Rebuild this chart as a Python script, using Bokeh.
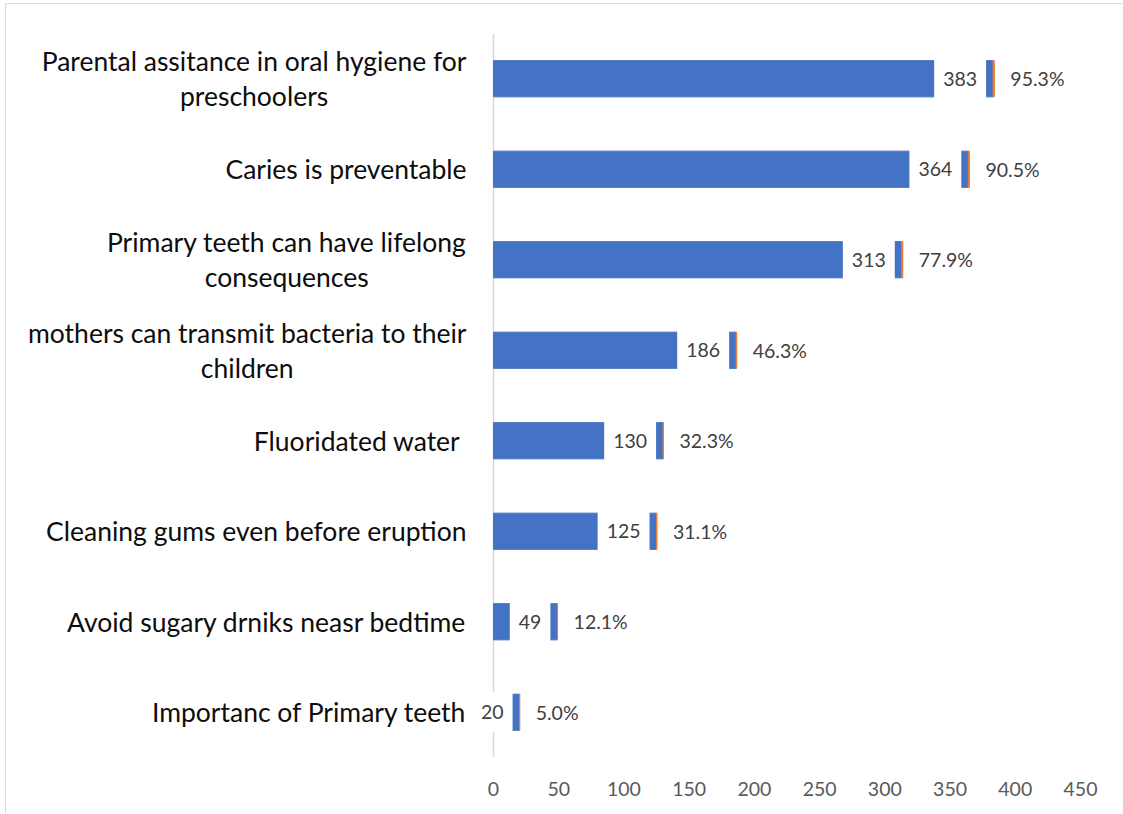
from bokeh.plotting import figure
from bokeh.models import ColumnDataSource, FactorRange, Range1d, FixedTicker, Span
from bokeh.core.properties import value
from bokeh.embed import file_html
from bokeh.resources import INLINE

# Survey items, top to bottom
items = [
    "Parental assitance in oral hygiene for\npreschoolers",
    "Caries is preventable",
    "Primary teeth can have lifelong\nconsequences",
    "mothers can transmit bacteria to their\nchildren",
    "Fluoridated water\u00a0",
    "Cleaning gums even before eruption",
    "Avoid sugary drniks neasr bedtime",
    "Importanc of Primary teeth",
]
counts = [383, 364, 313, 186, 130, 125, 49, 20]
shares = [0.953, 0.905, 0.779, 0.463, 0.323, 0.311, 0.121, 0.050]
x_ticks = [0, 50, 100, 150, 200, 250, 300, 350, 400, 450]

FONT = "Lato"
BLUE = "#4472C4"
ORANGE = "#ED7D31"

# The plotting frame also hosts the category text, so the value scale
# starts left of zero: 487 px of label room, 587 px for 0..450.
LABEL_ROOM = 487
VALUE_PX = 587
x_max = x_ticks[-1]
x_min = -LABEL_ROOM * x_max / VALUE_PX

factors = items[::-1]  # bottom to top
totals = [c + s for c, s in zip(counts, shares)]
src = ColumnDataSource(dict(
    item=items,
    count=counts,
    total=totals,
    zero=[0] * len(items),
    count_txt=[str(c) for c in counts],
    share_txt=[f"{s * 100:.1f}%" for s in shares],
))

p = figure(
    width=1117, height=810,
    y_range=FactorRange(factors=factors, range_padding=0),
    x_range=Range1d(x_min, x_max),
    output_backend="svg", toolbar_location=None,
    min_border_left=0, min_border_right=43,
    min_border_top=29, min_border_bottom=57,
)
p.styles = {
    "margin-left": "5px", "margin-top": "3px",
    "border-left": "1px solid #d9d9d9", "border-top": "1px solid #d9d9d9",
}
p.outline_line_color = None
p.xgrid.visible = False
p.ygrid.visible = False
p.yaxis.visible = False

# value axis line at zero
axis_line = Span(location=0, dimension="height", line_color="#d9d9d9",
                 line_width=1.5, level="underlay")
p.add_layout(axis_line)

# Stacked bars: respondent count, then the share as a thin segment
p.hbar(y="item", left=0, right="count", height=0.4, color=BLUE, source=src)
p.hbar(y="item", left="count", right="total", height=0.4, color=ORANGE, source=src)

# Category text: block right-aligned beside the axis, lines centred
p.text(
    x="zero", y="item", text="item", source=src,
    x_offset=-27, anchor="center_right", text_align="center",
    text_baseline="middle", text_line_height=1.1,
    text_font=value(FONT), text_font_size="26.5px", text_color="#0d0d0d",
)
# Count labels inside the bar end on a white box
p.text(
    x="count", y="item", text="count_txt", source=src,
    x_offset=-7, anchor="center_right", text_align="right",
    text_baseline="middle",
    text_font=value(FONT), text_font_size="19.5px", text_color="#404040",
    background_fill_color="white",
    padding=dict(left=9, right=9, top=13, bottom=13),
)
# Share labels outside the stacked bar
p.text(
    x="total", y="item", text="share_txt", source=src,
    x_offset=16, anchor="center_left", text_align="left",
    text_baseline="middle",
    text_font=value(FONT), text_font_size="19.5px", text_color="#404040",
)

xa = p.xaxis[0]
xa.ticker = FixedTicker(ticks=x_ticks)
xa.axis_line_color = None
xa.major_tick_line_color = None
xa.minor_tick_line_color = None
xa.major_label_text_font = FONT
xa.major_label_text_font_size = "19.5px"
xa.major_label_text_color = "#595959"
xa.major_label_standoff = 18

open("out.html", "w").write(file_html(p, INLINE))
